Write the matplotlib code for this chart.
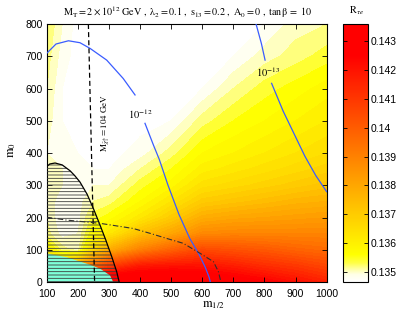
import numpy as np
import matplotlib
matplotlib.use('Agg')
import matplotlib.pyplot as plt
from matplotlib.colors import LinearSegmentedColormap, Normalize
from matplotlib.cm import ScalarMappable
from matplotlib.ticker import FormatStrFormatter

plt.rcParams['font.family'] = ['Liberation Sans', 'DejaVu Sans']
plt.rcParams['mathtext.fontset'] = 'stix'
plt.rcParams['hatch.linewidth'] = 0.6

# grid of R_tau_e (rows: m0, columns: m1/2)
m12 = [100, 150, 200, 250, 300, 400, 500, 600, 700, 800, 900, 1000]
m0 = [0, 50, 100, 150, 200, 250, 300, 350, 400, 500, 600, 700, 800]
r_te = [
    [0.1400, 0.1410, 0.1420, 0.1430, 0.1436, 0.1436, 0.1436, 0.1434, 0.1430, 0.1426, 0.1421, 0.1416],
    [0.1370, 0.1370, 0.1380, 0.1395, 0.1408, 0.1418, 0.1420, 0.1420, 0.1417, 0.1413, 0.1410, 0.1406],
    [0.1360, 0.1352, 0.1350, 0.1366, 0.1378, 0.1390, 0.1398, 0.1405, 0.1403, 0.1401, 0.1398, 0.1396],
    [0.1352, 0.1348, 0.1349, 0.1357, 0.1362, 0.1373, 0.1380, 0.1388, 0.1389, 0.1389, 0.1389, 0.1389],
    [0.1351, 0.1347, 0.1348, 0.1354, 0.1356, 0.1362, 0.1370, 0.1378, 0.1380, 0.1381, 0.1382, 0.1383],
    [0.1351, 0.1347, 0.1348, 0.1351, 0.1352, 0.1357, 0.1363, 0.1370, 0.1372, 0.1374, 0.1376, 0.1377],
    [0.1351, 0.1349, 0.1349, 0.1349, 0.1349, 0.1354, 0.1358, 0.1364, 0.1366, 0.1368, 0.1370, 0.1372],
    [0.1351, 0.1349, 0.1348, 0.1347, 0.1347, 0.1351, 0.1355, 0.1360, 0.1362, 0.1364, 0.1366, 0.1368],
    [0.1349, 0.1348, 0.1347, 0.1346, 0.1346, 0.1348, 0.1352, 0.1357, 0.1359, 0.1361, 0.1363, 0.1365],
    [0.1350, 0.1347, 0.1346, 0.1346, 0.1346, 0.1346, 0.1347, 0.1352, 0.1355, 0.1357, 0.1359, 0.1361],
    [0.1351, 0.1347, 0.1346, 0.1346, 0.1346, 0.1346, 0.1346, 0.1347, 0.1351, 0.1354, 0.1356, 0.1358],
    [0.1352, 0.1348, 0.1346, 0.1346, 0.1346, 0.1346, 0.1346, 0.1346, 0.1347, 0.1350, 0.1352, 0.1354],
    [0.1353, 0.1349, 0.1346, 0.1346, 0.1346, 0.1346, 0.1346, 0.1346, 0.1346, 0.1347, 0.1350, 0.1351],
]

# BR contours
br12_m12 = [100, 130, 170, 207, 240, 293, 346, 384, None, 416, 443, 462, 490, 525, 560, 590, 610, 622, 626]
br12_m0 = [709, 738, 748, 742, 724, 688, 631, 580, None, 492, 425, 380, 300, 210, 135, 85, 45, 15, 0]
br13_m12 = [773, 790, 802, None, 823, 860, 900, 930, 965, 1000]
br13_m0 = [800, 740, 688, None, 616, 530, 450, 390, 330, 280]

# chargino mass limit
chi_m12 = [234, 254]
chi_m0 = [800, 0]

# dash-dot contour
dd_m12 = [100, 164, 271, 378, 432, 486, 539, 593, 636, 652, 660]
dd_m0 = [201, 192, 182, 166, 151, 135, 120, 89, 63, 32, 0]

# excluded regions
hatch_m12 = [100, 110, 127, 150, 175, 190, 207, 230, 250, 270, 290, 310, 325, 333]
hatch_m0 = [358, 366, 369, 363, 345, 330, 310, 272, 228, 180, 130, 76, 32, 0]
cyan_m12 = [100, 164, 215, 238, 270, 302, 313]
cyan_m0 = [90, 78, 62, 55, 43, 22, 0]

vmin, vmax = 0.13465, 0.1436
nodes = [(0.13465, (1, 1, 1)), (0.1349, (1, 1, 0.9)), (0.1351, (1, 1, 0.62)),
         (0.1353, (1, 1, 0.28)), (0.1356, (1, 1, 0)), (0.1425, (1, 0, 0)), (0.1436, (1, 0, 0))]
cmap = LinearSegmentedColormap.from_list(
    'rte', [((v - vmin) / (vmax - vmin), c) for v, c in nodes])
cmap.set_under('white')
norm = Normalize(vmin=vmin, vmax=vmax)

fig = plt.figure(figsize=(3.98, 3.18), dpi=100)
ax = fig.add_axes([0.1173, 0.1132, 0.7035, 0.8113])

levels = np.linspace(0.1345, 0.1437, 47)
ax.contourf(m12, m0, np.array(r_te), levels=levels, cmap=cmap, norm=norm, zorder=1)

ax.fill_between(cyan_m12, 0, cyan_m0, color='#7fffd8', lw=0, zorder=2)
ax.fill_between(hatch_m12, 0, hatch_m0, facecolor='none', edgecolor='#3a3a3a',
                hatch='-----', lw=0, zorder=3)
ax.plot(hatch_m12, hatch_m0, color='k', lw=0.9, zorder=4)

def split(xs, ys):
    segs, cx, cy = [], [], []
    for x, y in zip(xs, ys):
        if x is None:
            segs.append((cx, cy)); cx, cy = [], []
        else:
            cx.append(x); cy.append(y)
    segs.append((cx, cy))
    return segs

for xs, ys in split(br12_m12, br12_m0) + split(br13_m12, br13_m0):
    ax.plot(xs, ys, color='#3a5cff', lw=0.9, zorder=5)

ax.plot(chi_m12, chi_m0, color='k', ls='--', dashes=(4, 2.5), lw=0.9, zorder=5)
ax.plot(dd_m12, dd_m0, color='#303030', ls='-.', dashes=(5, 2, 1, 2), lw=0.8, zorder=5)

ax.text(400, 520, r'$10^{-12}$', fontsize=7.5, ha='center', va='center', zorder=6)
ax.text(812, 652, r'$10^{-13}$', fontsize=7.5, ha='center', va='center', zorder=6)
ax.text(288, 493, r'$\mathrm{M}_{\tilde{\chi}_1^{\pm}} = 104\ \mathrm{GeV}$', fontsize=6.5,
        rotation=90, ha='center', va='center', zorder=6)

ax.set_xlim(100, 1000)
ax.set_ylim(0, 800)
ax.set_xticks(range(100, 1001, 100))
ax.set_yticks(range(0, 801, 100))
ax.tick_params(direction='in', top=True, right=True, length=3.5, width=0.6,
               labelsize=7.5)
ax.tick_params(axis='x', pad=5)
ax.tick_params(axis='y', pad=3)
for s in ax.spines.values():
    s.set_linewidth(0.8)

fig.text(0.537, 0.04, r'$\mathrm{m}_{1/2}$', fontsize=9, ha='center', va='center')
fig.text(0.03, 0.528, r'$\mathrm{m}_{0}$', fontsize=9, ha='center', va='center', rotation=90)
fig.text(0.472, 0.962,
         r'$\mathrm{M_T = 2\times 10^{12}\ GeV\ ,\ \lambda_2 = 0.1\ ,\ s_{13} = 0.2\ ,\ A_0{=}0\ ,\ tan\beta\ =\ 10}$',
         fontsize=7.3, ha='center', va='center')

cax = fig.add_axes([0.863, 0.1132, 0.0616, 0.8113])
cb = fig.colorbar(ScalarMappable(norm=norm, cmap=cmap), cax=cax)
cb.set_ticks([0.135, 0.136, 0.137, 0.138, 0.139, 0.14, 0.141, 0.142, 0.143])
cb.ax.yaxis.set_major_formatter(FormatStrFormatter('%g'))
cax.tick_params(direction='in', left=True, right=True, length=3, width=0.6, labelsize=7.5, pad=2)
cb.outline.set_linewidth(0.8)
fig.text(0.895, 0.965, r'$\mathrm{R}_{\tau e}$', fontsize=7.5, ha='center', va='center')

fig.savefig('out.png', dpi=100)
